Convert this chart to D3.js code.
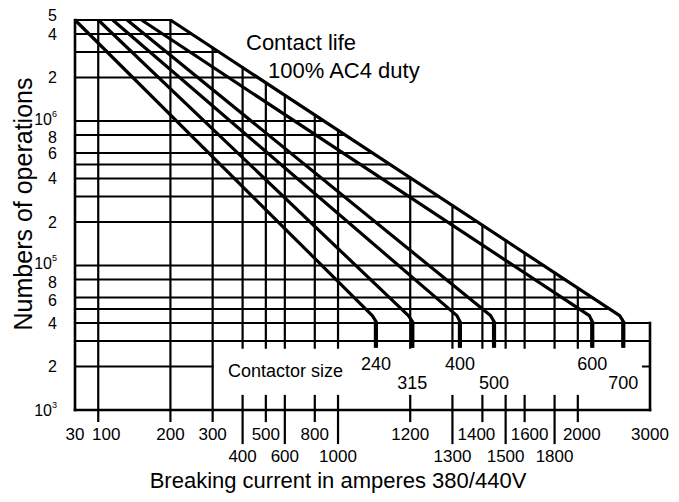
<!DOCTYPE html>
<html><head><meta charset="utf-8">
<script src="https://cdn.jsdelivr.net/npm/d3@7"></script>
<style>
body{margin:0;background:#fff}
svg{display:block}
text{font-family:"Liberation Sans",Arial,Helvetica,sans-serif;fill:#000}
</style>
</head><body>
<svg id="chart" width="679" height="502"></svg>
<script>
// ---------------- data ----------------
const xTickValues = [30,100,200,300,400,500,600,800,1000,1200,1300,1400,1500,1600,1800,2000,3000];
// the nomograph's underlying logarithmic position of each labelled current
const xTickUnits  = [0.8,1,2,3,4,5,6,8,10,20,30,40,50,60,80,100,200];
const xTicksLowerRow = [400,600,1000,1300,1500,1800];

const yGridValues = [5e6,4e6,3e6,2e6,1e6,8e5,6e5,5e5,4e5,3e5,2e5,1e5,8e4,6e4,5e4,4e4,3e4,2e4,1e4];
const yTickValues = [5e6,4e6,2e6,1e6,8e5,6e5,4e5,2e5,1e5,8e4,6e4,4e4,2e4,1e4];
const yTickMantissa = ["5","4","2","10","8","6","4","2","10","8","6","4","2","10"];
const yTickExponent = ["","","","6","","","","","5","","","","","3"];

const contactorSizes  = ["240","315","400","500","600","700"];
const curveStartA     = [30,100,120,140,160,200];     // current at 5·10^6 operations
const curveBendA      = [1095,1195,1315,1435,2160,2580];
const curveVerticalA  = [1105,1205,1325,1450,2200,2630];
const topOps = 5e6, bendOps = 4.5e4, verticalTopOps = 4.1e4, verticalEndOps = 2.7e4;
const partialGridOps = 2e4, partialGridUntilA = 300;
const gapOps = [1.25e4, 2.7e4];   // blank band holding the "Contactor size" labels

// ---------------- layout ----------------
const plot = {left:75, right:650, top:20, bottom:410};
const xLabelNudge = {100:8, 1400:-6, 1600:5, 2000:4};
const yLabelNudge = {5e6:-5, 1e6:-2, 8e5:2.5, 1e5:-2.5, 8e4:2.5, 6e4:3};

const svg = d3.select("#chart");
const unitScale = d3.scaleLog().domain([0.8,200]).range([plot.left, plot.right]);
const x = d3.scaleLinear().domain(xTickValues).range(xTickUnits.map(u => unitScale(u)));
const y = d3.scaleLog().domain([1e4, 5e6]).range([plot.bottom, plot.top]);

// envelope = the 700 curve's diagonal
const envIdx = contactorSizes.length - 1;
const A = {x: x(curveStartA[envIdx]), y: y(topOps)};
const B = {x: x(curveBendA[envIdx]),  y: y(bendOps)};
const envX = py => A.x + (py - A.y) / (B.y - A.y) * (B.x - A.x);
const envY = px => A.y + (px - A.x) / (B.x - A.x) * (B.y - A.y);

const grid = svg.append("g").attr("stroke","#000").attr("stroke-linecap","square");

// horizontal grid lines
yGridValues.forEach(v => {
  const py = y(v);
  let x2;
  if (v === partialGridOps) x2 = x(partialGridUntilA);
  else x2 = py <= B.y ? envX(py) : x(3000);
  grid.append("line")
    .attr("x1", x(30)).attr("x2", x2).attr("y1", py).attr("y2", py)
    .attr("stroke-width", (v === 1e4) ? 2.6 : 2);
});
// small inner tick on the right edge
grid.append("line").attr("x1", x(3000) - 7).attr("x2", x(3000))
  .attr("y1", y(partialGridOps)).attr("y2", y(partialGridOps)).attr("stroke-width", 2);

// vertical grid lines
xTickValues.forEach(a => {
  const px = x(a);
  const lower = xTicksLowerRow.includes(a);
  const tickEnd = plot.bottom + (lower ? 33 : 11);
  if (a === 30) {
    grid.append("line").attr("x1",px).attr("x2",px).attr("y1",y(topOps)).attr("y2",y(1e4)).attr("stroke-width",2.6);
    return;
  }
  if (a === 3000) {
    grid.append("line").attr("x1",px).attr("x2",px).attr("y1",y(4e4)).attr("y2",y(1e4)).attr("stroke-width",2.6);
    return;
  }
  const top = a <= 200 ? y(topOps) : envY(px);
  if (a <= 300) {
    grid.append("line").attr("x1",px).attr("x2",px).attr("y1",top).attr("y2",tickEnd).attr("stroke-width",2.2);
  } else {
    grid.append("line").attr("x1",px).attr("x2",px).attr("y1",top).attr("y2",y(gapOps[1])).attr("stroke-width",2.2);
    grid.append("line").attr("x1",px).attr("x2",px).attr("y1",y(gapOps[0])).attr("y2",tickEnd).attr("stroke-width",2.2);
  }
});

// contactor curves
const line = d3.line().x(d => x(d[0])).y(d => y(d[1]));
const curves = svg.append("g").attr("fill","none").attr("stroke","#000");
contactorSizes.forEach((s, i) => {
  const pts = [[curveStartA[i], topOps], [curveBendA[i], bendOps],
               [curveVerticalA[i], verticalTopOps], [curveVerticalA[i], verticalEndOps]];
  curves.append("path").attr("d", line(pts)).attr("stroke-width", 3.2).attr("stroke-linejoin","round");
  curves.append("path").attr("d", line(pts.slice(2))).attr("stroke-width", 4.2);
  svg.append("text")
    .attr("x", x(curveVerticalA[i]))
    .attr("y", plot.bottom - (i % 2 === 0 ? 40 : 21))
    .attr("text-anchor","middle").attr("font-size",18).text(s);
});

// x tick labels
xTickValues.forEach(a => {
  const lower = xTicksLowerRow.includes(a);
  svg.append("text")
    .attr("x", x(a) + (xLabelNudge[a] || 0))
    .attr("y", lower ? 462 : 440)
    .attr("text-anchor","middle").attr("font-size",17)
    .text(a);
});

// y tick labels
yTickValues.forEach((v, i) => {
  const t = svg.append("text")
    .attr("x", 57).attr("y", y(v) + (yLabelNudge[v] || 0)).attr("dy","0.36em")
    .attr("text-anchor","end").attr("font-size",16)
    .text(yTickMantissa[i]);
  if (yTickExponent[i]) {
    t.append("tspan").attr("font-size",9).attr("dy","-0.9em").text(yTickExponent[i]);
  }
});

// annotations
svg.append("text").attr("x",246).attr("y",50).attr("font-size",22).text("Contact life");
svg.append("text").attr("x",268).attr("y",78).attr("font-size",22).text("100% AC4 duty");
svg.append("text").attr("x",228).attr("y",377).attr("font-size",18).text("Contactor size");

// axis titles
svg.append("text").attr("x",338).attr("y",488).attr("text-anchor","middle")
  .attr("font-size",22).text("Breaking current in amperes 380/440V");
svg.append("text").attr("transform","translate(32,204) rotate(-90)")
  .attr("text-anchor","middle").attr("font-size",25).text("Numbers of operations");
</script>
</body></html>
